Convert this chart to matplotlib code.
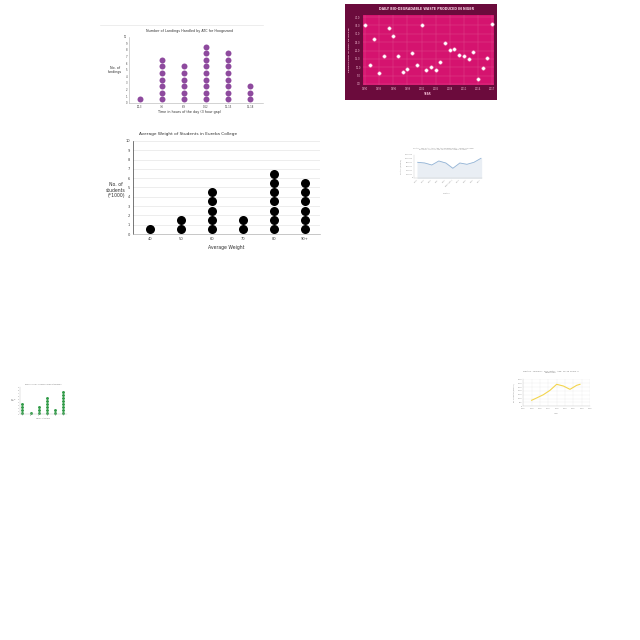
import matplotlib
matplotlib.use("Agg")
import matplotlib.pyplot as plt
from matplotlib.lines import Line2D
from matplotlib.ticker import FuncFormatter

W = H = 640

# --- data ---
landing_slots = ["00-3", "3-6", "6-9", "9-12", "12-15", "15-18"]
landing_counts = [1, 7, 6, 9, 8, 3]

waste_years = list(range(1990, 2018))
waste_tons = [35.4, 11.3, 26.7, 6.6, 16.7, 33.3, 28.8, 16.7, 7.2, 9.0,
              18.7, 11.3, 35.2, 8.2, 10.0, 8.5, 13.3, 24.3, 20.3, 20.7,
              17.3, 16.5, 15.1, 18.9, 2.8, 9.4, 15.5, 35.6]
waste_xticks = [1990, 1993, 1996, 1999, 2002, 2005, 2008, 2011, 2014, 2017]
waste_yticks = [0, 5, 10, 15, 20, 25, 30, 35, 40]

weight_groups = ["40", "50", "60", "70", "80", "90+"]
weight_counts = [1, 2, 5, 2, 7, 6]

deaths_labels = ["2008", "2009", "2010", "2011", "2012", "2013 (est.)", "2014", "2015", "2016", "2017"]
deaths_values = [808000, 773000, 670000, 876000, 773000, 500000, 773000, 706000, 808000, 1015000]

goal_players = ["A", "B", "C", "D", "E", "F"]
goal_counts = [4, 1, 3, 6, 2, 8]

malaria_years = [1990, 1993, 1997, 2001, 2005, 2009, 2013, 2017, 2019]
malaria_deaths = [780, 1080, 1500, 2070, 2850, 2630, 2200, 2720, 2850]


def box(x0, y0, x1, y1):
    # pixel box (top-left origin) -> figure fraction rect
    return [x0 / W, 1 - y1 / H, (x1 - x0) / W, (y1 - y0) / H]


def dot_columns(ax, counts, **kw):
    for i, c in enumerate(counts):
        ys = [k + 0.5 for k in range(c)]
        ax.plot([i] * c, ys, "o", linestyle="none", **kw)


fig = plt.figure(figsize=(6.4, 6.4), dpi=100)
fig.patch.set_facecolor("white")

# ---------- chart 1: landings dot plot ----------
fig.add_artist(Line2D([100 / W, 263 / W], [1 - 25 / H, 1 - 25 / H], color="#e6e6e6", lw=0.5))
ax1 = fig.add_axes(box(129.3, 36.7, 263, 102.7))
dot_columns(ax1, landing_counts, color="#8e4a9e", markersize=4.3, markeredgewidth=0)
ax1.set_xlim(-0.49, 5.59)
ax1.set_ylim(0, 10)
ax1.set_xticks(range(len(landing_slots)))
ax1.set_xticklabels(landing_slots)
ax1.set_yticks(range(11))
ax1.tick_params(labelsize=1.8, length=0, pad=1.5, colors="#404040")
for s in ["top", "right"]:
    ax1.spines[s].set_visible(False)
for s in ["left", "bottom"]:
    ax1.spines[s].set_color("#b0b0b0")
    ax1.spines[s].set_linewidth(0.4)
fig.text(190 / W, 1 - 30.7 / H, "Number of Landings Handled by ATC for Hoogezand",
         ha="center", va="center", fontsize=2.4, color="#303030")
fig.text(115 / W, 1 - 70 / H, "No. of\nlandings", ha="center", va="center",
         fontsize=2.4, color="#303030", linespacing=1.2)
fig.text(190 / W, 1 - 112 / H, "Time in hours of the day (3 hour gap)",
         ha="center", va="center", fontsize=2.4, color="#303030")

# ---------- chart 2: waste scatter ----------
bg = fig.add_axes(box(345, 4, 497, 100))
bg.set_facecolor("#6b0b3c")
bg.set_xticks([])
bg.set_yticks([])
for s in bg.spines.values():
    s.set_visible(False)
ax2 = fig.add_axes(box(362.7, 15, 494, 85))
ax2.set_facecolor("#d5136f")
ax2.plot(waste_years, waste_tons, "o", linestyle="none", markersize=2.5,
         markerfacecolor="white", markeredgecolor="#f4a6c8", markeredgewidth=0.3)
ax2.set_xlim(1989.5, 2017.4)
ax2.set_ylim(-0.6, 41.2)
ax2.set_xticks(waste_xticks)
ax2.set_yticks(waste_yticks)
ax2.set_yticklabels(["%.1f" % v for v in waste_yticks])
ax2.grid(True, color="#e34d8f", linewidth=0.3)
ax2.set_axisbelow(True)
ax2.tick_params(labelsize=1.8, length=0, pad=1.5, colors="#f0b8d0")
for s in ax2.spines.values():
    s.set_visible(False)
fig.text(427 / W, 1 - 9.3 / H, "DAILY BIO-DEGRADABLE WASTE PRODUCED IN NIGER",
         ha="center", va="center", fontsize=2.3, color="#f6d6e4", weight="bold")
fig.text(349.5 / W, 1 - 50 / H, "PRODUCTION IN TONS OF WASTE", rotation=90,
         ha="center", va="center", fontsize=1.7, color="#f0b8d0", weight="bold")
fig.text(428 / W, 1 - 94 / H, "YEAR", ha="center", va="center",
         fontsize=1.9, color="#f0b8d0", weight="bold")

# ---------- chart 3: weight dot plot ----------
ax3 = fig.add_axes(box(133.3, 141, 320, 234))
dot_columns(ax3, weight_counts, color="black", markersize=6.5, markeredgewidth=0)
ax3.set_xlim(-0.54, 5.48)
ax3.set_ylim(0, 10)
ax3.set_xticks(range(len(weight_groups)))
ax3.set_xticklabels(weight_groups)
ax3.set_yticks(range(11))
ax3.yaxis.grid(True, color="#e0e0e0", linewidth=0.4)
ax3.set_axisbelow(True)
ax3.tick_params(labelsize=2.6, length=0, pad=2.5, colors="#404040")
for s in ["top", "right"]:
    ax3.spines[s].set_visible(False)
ax3.spines["left"].set_color("#404040")
ax3.spines["left"].set_linewidth(0.5)
ax3.spines["bottom"].set_color("#b0b0b0")
ax3.spines["bottom"].set_linewidth(0.5)
fig.text(139.3 / W, 1 - 134.3 / H, "Average Weight of Students in Eureka College",
         ha="left", va="center", fontsize=3.1, color="#303030")
fig.text(116 / W, 1 - 190 / H, "No. of\nstudents\n(*1000)", ha="center", va="center",
         fontsize=3.3, color="#303030", linespacing=1.2)
fig.text(226 / W, 1 - 248 / H, "Average Weight", ha="center", va="center",
         fontsize=3.3, color="#303030")

# ---------- chart 4: line with fill ----------
ax4 = fig.add_axes(box(414.3, 154.7, 482, 178))
x4 = list(range(len(deaths_values)))
ax4.plot(x4, deaths_values, color="#93b4d6", linewidth=0.6)
ax4.fill_between(x4, deaths_values, 0, color="#e9eef4")
ax4.set_xlim(-0.48, 9.15)
ax4.set_ylim(0, 1200000)
ax4.set_yticks(range(0, 1200001, 200000))
ax4.yaxis.set_major_formatter(FuncFormatter(lambda v, p: "%d" % v))
ax4.set_xticks(x4)
ax4.set_xticklabels(deaths_labels, rotation=45, ha="right")
ax4.tick_params(labelsize=1.3, length=0, pad=1, colors="#808080")
for s in ["top", "right"]:
    ax4.spines[s].set_visible(False)
for s in ["left", "bottom"]:
    ax4.spines[s].set_color("#c8c8c8")
    ax4.spines[s].set_linewidth(0.3)
fig.text(443 / W, 1 - 148.7 / H,
         "Deaths - Sex: Both - Age: Age-standardized (Rate) - Cause: Diarrheal\ndiseases - Location: Top 10 countries - Metric: Number",
         ha="center", va="center", fontsize=1.3, color="#909090", linespacing=1.1)
fig.text(401 / W, 1 - 166 / H, "Deaths (Number)", rotation=90, ha="center",
         va="center", fontsize=1.3, color="#909090")
fig.text(446.7 / W, 1 - 193 / H, "Location", ha="center", va="center",
         fontsize=1.3, color="#909090")

# ---------- chart 5: green dot plot ----------
ax5 = fig.add_axes(box(19.5, 386.7, 66.7, 414.3))
dot_columns(ax5, goal_counts, color="#2f9a46", markersize=2.1, markeredgewidth=0)
ax5.set_xlim(-0.35, 5.4)
ax5.set_ylim(0, 9.1)
ax5.set_xticks(range(len(goal_players)))
ax5.set_xticklabels(goal_players)
ax5.set_yticks(range(0, 10))
ax5.tick_params(labelsize=0.9, length=0, pad=0.6, colors="#707070")
for s in ["top", "right"]:
    ax5.spines[s].set_visible(False)
for s in ["left", "bottom"]:
    ax5.spines[s].set_color("#c0c0c0")
    ax5.spines[s].set_linewidth(0.3)
fig.text(43 / W, 1 - 384.3 / H, "Number of goals scored by players in the season",
         ha="center", va="center", fontsize=1.1, color="#707070")
fig.text(13 / W, 1 - 400 / H, "No. of\ngoals", ha="center", va="center",
         fontsize=1.0, color="#707070")
fig.text(43 / W, 1 - 418 / H, "Players of the team", ha="center", va="center",
         fontsize=1.0, color="#707070")

# ---------- chart 6: yellow line ----------
ax6 = fig.add_axes(box(523.3, 379.3, 590, 406.3))
ax6.plot(malaria_years, malaria_deaths, color="#f3d54e", linewidth=0.8)
ax6.set_xlim(1985, 2025)
ax6.set_ylim(0, 3500)
ax6.set_xticks(range(1985, 2026, 5))
ax6.set_yticks(range(0, 3501, 500))
ax6.grid(True, color="#ececec", linewidth=0.3)
ax6.set_axisbelow(True)
ax6.tick_params(labelsize=1.3, length=0, pad=1, colors="#808080")
for s in ["top", "right"]:
    ax6.spines[s].set_visible(False)
for s in ["left", "bottom"]:
    ax6.spines[s].set_color("#c8c8c8")
    ax6.spines[s].set_linewidth(0.3)
fig.text(551 / W, 1 - 372 / H, "Deaths - Malaria - Sex: Both - Age: 15-49 years in\nCameroon",
         ha="center", va="center", fontsize=1.6, color="#808080", linespacing=1.2)
fig.text(514 / W, 1 - 393 / H, "No. of deaths (Number)", rotation=90, ha="center",
         va="center", fontsize=1.2, color="#909090")
fig.text(556 / W, 1 - 413 / H, "Year", ha="center", va="center",
         fontsize=1.3, color="#909090")

fig.savefig("out.png", dpi=100, facecolor="white")
